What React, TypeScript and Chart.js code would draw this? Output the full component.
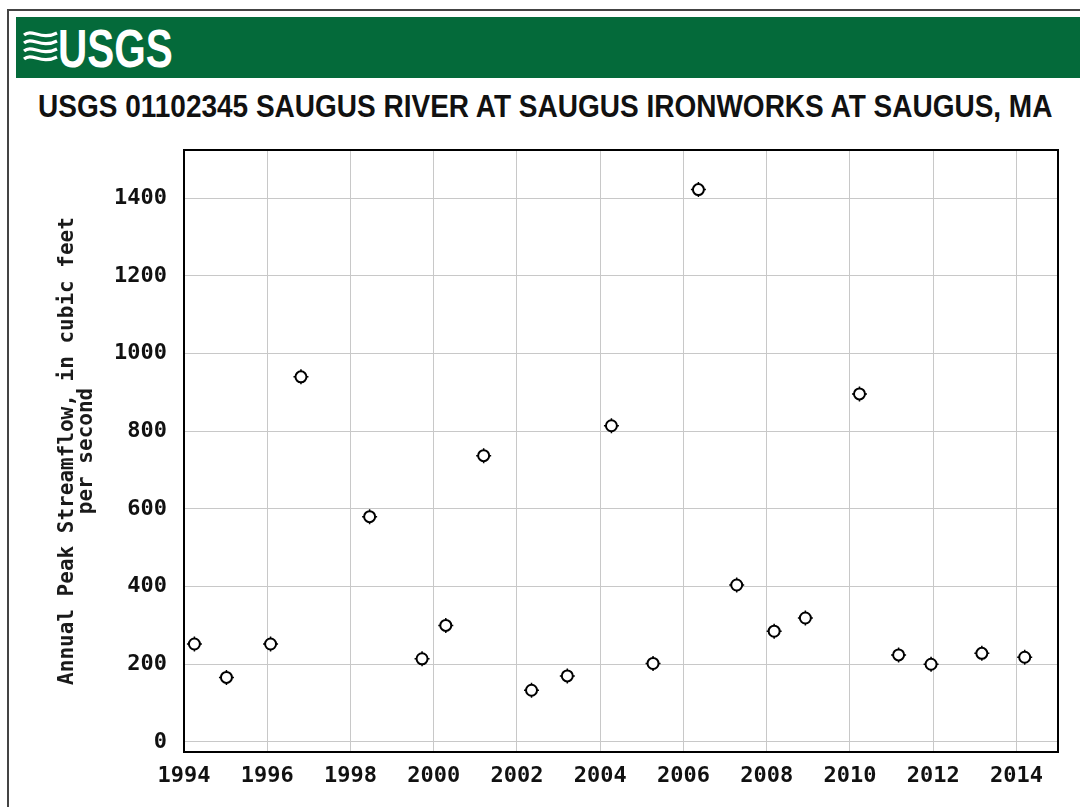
import React, { useEffect, useRef } from "react";
import { Chart, registerables } from "chart.js";

Chart.register(...registerables);

const titleText = "USGS 01102345 SAUGUS RIVER AT SAUGUS IRONWORKS AT SAUGUS, MA";
const logoText = "USGS";
const yTitleLines = ["Annual Peak Streamflow, in cubic feet", "per second"];

const xTickValues = [1994, 1996, 1998, 2000, 2002, 2004, 2006, 2008, 2010, 2012, 2014];
const yTickValues = [0, 200, 400, 600, 800, 1000, 1200, 1400];

const peakYears = [
  1994.25, 1995.02, 1996.08, 1996.81, 1998.46, 1999.72, 2000.29, 2001.2, 2002.35, 2003.21,
  2004.27, 2005.27, 2006.36, 2007.28, 2008.18, 2008.93, 2010.23, 2011.17, 2011.95, 2013.17, 2014.2,
];
const peakFlows = [
  252, 166, 252, 940, 580, 214, 300, 737, 133, 170,
  814, 202, 1422, 404, 285, 319, 896, 224, 200, 228, 218,
];

const monoFont = "'DejaVu Sans Mono', 'Liberation Mono', monospace";

const framePlugin = {
  id: "frame",
  beforeDatasetsDraw(chart: any) {
    const { ctx, chartArea } = chart;
    const { left, top, right, bottom } = chartArea;
    ctx.save();
    ctx.strokeStyle = "#000";
    ctx.lineWidth = 2;
    ctx.strokeRect(left, top, right - left, bottom - top);
    ctx.restore();
  },
};

export default function App() {
  const ref = useRef<HTMLCanvasElement>(null);

  useEffect(() => {
    const points = peakYears.map((x, i) => ({ x, y: peakFlows[i] }));
    const chart = new Chart(ref.current as HTMLCanvasElement, {
      type: "scatter",
      data: {
        datasets: [
          {
            data: points,
            pointStyle: "circle",
            pointRadius: 5.5,
            pointBorderWidth: 2,
            pointBorderColor: "#000",
            pointBackgroundColor: "#fff",
            order: 0,
          },
          {
            data: points,
            pointStyle: "cross",
            pointRadius: 7.5,
            pointBorderWidth: 1.5,
            pointBorderColor: "#000",
            pointBackgroundColor: "#000",
            order: 1,
          },
        ],
      },
      options: {
        responsive: false,
        animation: false,
        events: [],
        layout: { padding: { left: 0, top: 150, right: 22, bottom: 15 } },
        plugins: {
          legend: { display: false },
          tooltip: { enabled: false },
          title: { display: false },
        },
        scales: {
          x: {
            type: "linear",
            min: 1994,
            max: 2015,
            afterBuildTicks: (s: any) => {
              s.ticks = xTickValues.map((v) => ({ value: v }));
            },
            afterFit: (s: any) => {
              s.height = 40;
            },
            grid: { color: "#c8c8c8", lineWidth: 1, drawTicks: false },
            border: { display: false },
            ticks: {
              padding: 11,
              color: "#111",
              autoSkip: false,
              maxRotation: 0,
              font: { family: monoFont, size: 22, weight: "bold" },
              callback: (v: any) => String(v),
            },
          },
          y: {
            type: "linear",
            min: -26,
            max: 1524,
            afterBuildTicks: (s: any) => {
              s.ticks = yTickValues.map((v) => ({ value: v }));
            },
            afterFit: (s: any) => {
              s.width = 184;
            },
            grid: { color: "#c8c8c8", lineWidth: 1, drawTicks: false },
            border: { display: false },
            ticks: {
              padding: 17,
              color: "#111",
              font: { family: monoFont, size: 22, weight: "bold" },
              callback: (v: any) => String(v),
            },
            title: {
              display: true,
              text: yTitleLines,
              color: "#1a1a1a",
              padding: { top: 58, bottom: 0 },
              font: { family: monoFont, size: 21, weight: "bold", lineHeight: 0.9 },
            },
          },
        },
      },
      plugins: [framePlugin],
    });
    return () => chart.destroy();
  }, []);

  return (
    <div
      style={{
        position: "absolute",
        left: 0,
        top: 0,
        width: 1080,
        height: 807,
        overflow: "hidden",
        background: "#fff",
      }}
    >
      <div
        style={{
          position: "absolute",
          left: 7,
          top: 9,
          width: 1100,
          height: 820,
          borderLeft: "2px solid #444",
          borderTop: "2px solid #444",
        }}
      />
      <div
        style={{
          position: "absolute",
          left: 16,
          top: 17,
          width: 1080,
          height: 61,
          background: "#046a3a",
        }}
      />
      <svg
        style={{ position: "absolute", left: 23, top: 27 }}
        width={35}
        height={40}
        viewBox="0 0 35 40"
      >
        {[6, 14, 22, 30].map((o) => (
          <path
            key={o}
            d={`M1 ${o + 2} C 9 ${o - 5}, 18 ${o + 8}, 34 ${o}`}
            stroke="#fff"
            strokeWidth={3.2}
            fill="none"
          />
        ))}
      </svg>
      <div
        style={{
          position: "absolute",
          left: 58,
          top: 21,
          fontFamily: "'Liberation Sans', Arial, sans-serif",
          fontWeight: "bold",
          fontSize: 54,
          lineHeight: "54px",
          color: "#fff",
          whiteSpace: "nowrap",
          transform: "scaleX(0.75)",
          transformOrigin: "left top",
        }}
      >
        {logoText}
      </div>
      <div
        style={{
          position: "absolute",
          left: 38,
          top: 90,
          fontFamily: "'Liberation Sans', Arial, sans-serif",
          fontWeight: "bold",
          fontSize: 32,
          lineHeight: "32px",
          color: "#111",
          whiteSpace: "nowrap",
          transform: "scaleX(0.875)",
          transformOrigin: "left top",
        }}
      >
        {titleText}
      </div>
      <canvas
        ref={ref}
        width={1080}
        height={807}
        style={{ position: "absolute", left: 0, top: 0, width: 1080, height: 807 }}
      />
    </div>
  );
}
